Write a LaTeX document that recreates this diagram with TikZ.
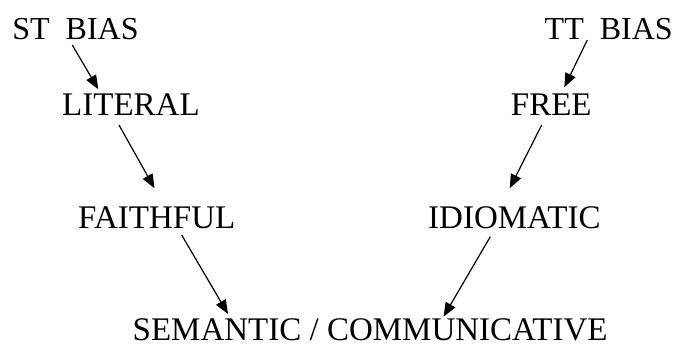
\documentclass[tikz,border=0pt]{standalone}
\usepackage{fontspec}
\setmainfont{Liberation Serif}
\usetikzlibrary{arrows.meta,calc}
\tikzset{
  lbl/.style={inner sep=0pt,anchor=base west,font=\fontsize{33}{36}\selectfont},
  biaslbl/.style={lbl,font=\fontsize{32}{36}\selectfont},
  arr/.style={line width=1.2pt,-{Triangle[length=14pt,width=11pt]}}
}
\begin{document}
\begin{tikzpicture}[x=1pt,y=-1pt]
\useasboundingbox (0,0) rectangle (675,343);
\node[biaslbl] (st) at (12.2,39) {ST\ \ BIAS};
\node[biaslbl] (tt) at (544.5,39) {TT\ \ BIAS};
\node[lbl] (lit) at (62,115) {LITERAL};
\node[lbl] (free) at (510.7,115) {FREE};
\node[lbl] (fai) at (78,228.3) {FAITHFUL};
\node[lbl] (idi) at (428,228.3) {IDIOMATIC};
\node[lbl] (sem) at (132.5,340) {SEMANTIC / COMMUNICATIVE};
\draw[arr] ($(st.base west)+(60.1,6)$) -- ($(lit.base west)+(36.3,-25.7)$);
\draw[arr] ($(lit.base west)+(57,10)$) -- ($(fai.base west)+(76.5,-40)$);
\draw[arr] ($(fai.base west)+(103.7,6.7)$) -- ($(sem.base west)+(95.5,-26)$);
\draw[arr] ($(tt.base west)+(42.8,1)$) -- ($(free.base west)+(53.6,-27.7)$);
\draw[arr] ($(free.base west)+(31,10)$) -- ($(idi.base west)+(81.7,-40)$);
\draw[arr] ($(idi.base west)+(62.3,8.4)$) -- ($(sem.base west)+(311,-23.3)$);
\end{tikzpicture}
\end{document}
